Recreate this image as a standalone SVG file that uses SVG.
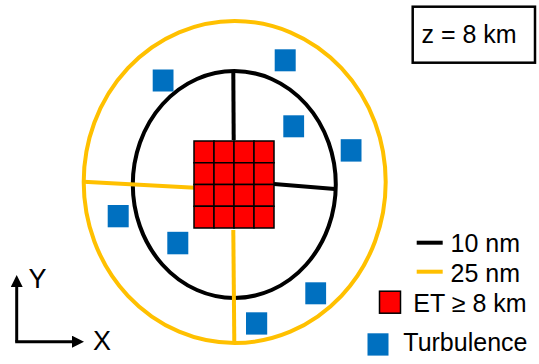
<svg xmlns="http://www.w3.org/2000/svg" width="539" height="364" viewBox="0 0 539 364">
<style>
text{font-family:"Liberation Sans",Arial,sans-serif;fill:#000}
.t{font-size:25px}
.ax{font-size:27px}
.blue{fill:#0070C0}
.cell{fill:#FF0000;stroke:#000;stroke-width:1.5}
.yl{stroke:#FFC000;stroke-width:4;fill:none}
.bk{stroke:#000;stroke-width:4;fill:none}
</style>
<defs>
<marker id="ah" markerWidth="4" markerHeight="4" refX="2" refY="2" orient="auto" markerUnits="strokeWidth">
<path d="M0,0 L4,2 L0,4 z" fill="#000"/>
</marker>
</defs>
<rect width="539" height="364" fill="#fff"/>
<g id="rings">
<ellipse class="yl" cx="234.7" cy="182" rx="151" ry="161"/>
<ellipse class="bk" cx="234.3" cy="184.5" rx="101.5" ry="113.5"/>
</g>
<g id="connectors">
<line class="bk" x1="233.3" y1="71.5" x2="233.7" y2="140"/>
<line class="bk" x1="274" y1="184" x2="335" y2="189"/>
<line class="yl" x1="83.5" y1="181.7" x2="195" y2="187.7"/>
<line class="yl" x1="233.3" y1="230" x2="234.3" y2="342.3"/>
</g>
<g id="et-grid">
<rect class="cell" x="194" y="141" width="20" height="21.75"/>
<rect class="cell" x="214" y="141" width="20" height="21.75"/>
<rect class="cell" x="234" y="141" width="20" height="21.75"/>
<rect class="cell" x="254" y="141" width="20" height="21.75"/>
<rect class="cell" x="194" y="162.75" width="20" height="21.75"/>
<rect class="cell" x="214" y="162.75" width="20" height="21.75"/>
<rect class="cell" x="234" y="162.75" width="20" height="21.75"/>
<rect class="cell" x="254" y="162.75" width="20" height="21.75"/>
<rect class="cell" x="194" y="184.5" width="20" height="21.75"/>
<rect class="cell" x="214" y="184.5" width="20" height="21.75"/>
<rect class="cell" x="234" y="184.5" width="20" height="21.75"/>
<rect class="cell" x="254" y="184.5" width="20" height="21.75"/>
<rect class="cell" x="194" y="206.25" width="20" height="21.75"/>
<rect class="cell" x="214" y="206.25" width="20" height="21.75"/>
<rect class="cell" x="234" y="206.25" width="20" height="21.75"/>
<rect class="cell" x="254" y="206.25" width="20" height="21.75"/>
</g>
<g id="turbulence">
<rect class="blue" x="152.7" y="69.5" width="20.8" height="22"/>
<rect class="blue" x="274.7" y="49.3" width="21" height="22"/>
<rect class="blue" x="283.3" y="115.3" width="20.8" height="22"/>
<rect class="blue" x="340.7" y="139.2" width="20.8" height="22.4"/>
<rect class="blue" x="107.7" y="205" width="21" height="22.3"/>
<rect class="blue" x="167.3" y="231.8" width="21" height="22.5"/>
<rect class="blue" x="305.3" y="282.3" width="20.8" height="22"/>
<rect class="blue" x="246" y="312.3" width="21.2" height="22.3"/>
</g>
<g id="zlabel">
<rect x="412.7" y="6.7" width="122.3" height="56" fill="#fff" stroke="#000" stroke-width="2.5"/>
<text class="t" x="421.5" y="42.5">z = 8 km</text>
</g>
<g id="axes">
<line x1="16.7" y1="341.7" x2="16.7" y2="281" stroke="#000" stroke-width="3" marker-end="url(#ah)"/>
<line x1="15.2" y1="341.7" x2="78" y2="341.7" stroke="#000" stroke-width="3" marker-end="url(#ah)"/>
<text class="ax" x="28.5" y="288.3">Y</text>
<text class="ax" x="93" y="350">X</text>
</g>
<g id="legend">
<line x1="416.7" y1="242.7" x2="442.7" y2="242.7" stroke="#000" stroke-width="4"/>
<text class="t" x="450.5" y="252.3">10 nm</text>
<line x1="416.7" y1="271.7" x2="442.7" y2="271.7" stroke="#FFC000" stroke-width="4"/>
<text class="t" x="450.5" y="281.7">25 nm</text>
<rect x="379.5" y="291.2" width="21" height="22" fill="#FF0000" stroke="#000" stroke-width="1.5"/>
<text class="t" x="413.3" y="311.7">ET ≥ 8 km</text>
<rect class="blue" x="367.5" y="333.3" width="21" height="22.3"/>
<text class="t" x="403.3" y="351">Turbulence</text>
</g>
</svg>
